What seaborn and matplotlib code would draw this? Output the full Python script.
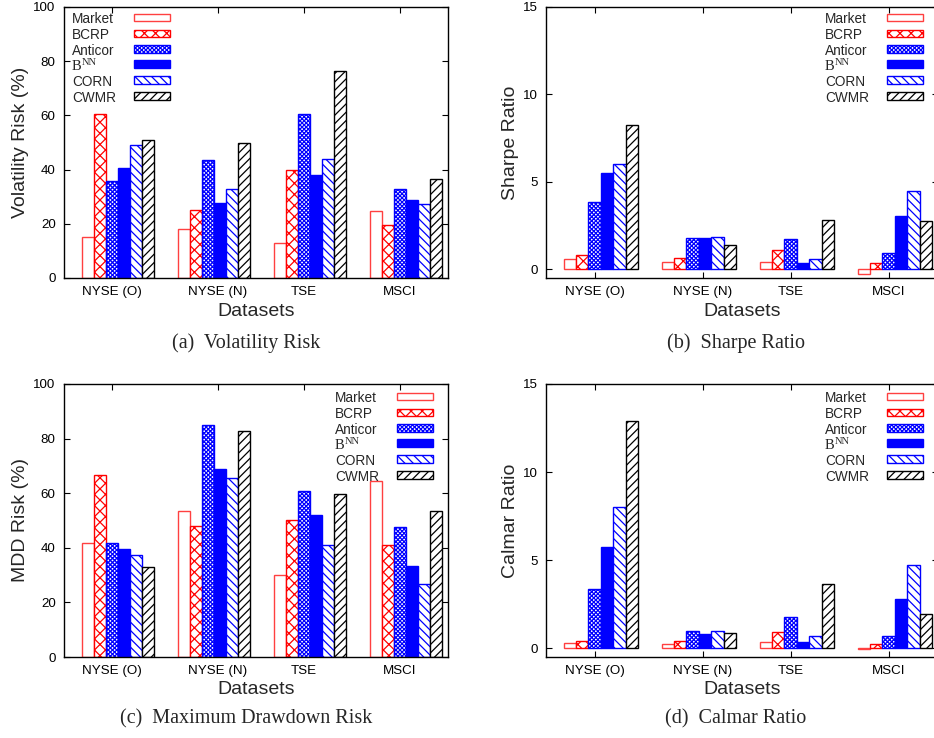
import numpy as np
import pandas as pd
import matplotlib
matplotlib.use("Agg")
import matplotlib.pyplot as plt
import seaborn as sns
from matplotlib.patches import Rectangle
from matplotlib.legend_handler import HandlerBase

# ---------------- data ----------------
datasets = ["NYSE (O)", "NYSE (N)", "TSE", "MSCI"]
methods = ["Market", "BCRP", "Anticor", "BNN", "CORN", "CWMR"]
method_labels = ["Market", "BCRP", "Anticor", "B", "CORN", "CWMR"]
bnn_superscript = "NN"

# rows = methods, columns = datasets
volatility_risk = [
    [15.0, 17.9, 13.0, 24.7],
    [60.7, 25.0, 40.0, 19.4],
    [35.7, 43.4, 60.4, 32.9],
    [40.5, 27.6, 38.0, 28.7],
    [49.0, 32.9, 43.9, 27.2],
    [50.9, 49.7, 76.4, 36.4],
]
sharpe_ratio = [
    [0.59, 0.42, 0.44, -0.29],
    [0.80, 0.65, 1.09, 0.34],
    [3.83, 1.81, 1.71, 0.91],
    [5.52, 1.79, 0.34, 3.05],
    [6.00, 1.87, 0.57, 4.49],
    [8.23, 1.37, 2.82, 2.74],
]
mdd_risk = [
    [41.6, 53.5, 30.2, 64.6],
    [66.7, 48.0, 50.2, 40.9],
    [41.6, 84.9, 60.7, 47.5],
    [39.7, 68.8, 52.0, 33.4],
    [37.2, 65.5, 40.9, 26.6],
    [32.8, 82.7, 59.6, 53.5],
]
calmar_ratio = [
    [0.30, 0.23, 0.34, -0.04],
    [0.42, 0.42, 0.93, 0.25],
    [3.38, 0.99, 1.78, 0.70],
    [5.73, 0.78, 0.34, 2.77],
    [8.00, 0.99, 0.70, 4.75],
    [12.9, 0.87, 3.66, 1.94],
]

y_labels = ["Volatility Risk (%)", "Sharpe Ratio", "MDD Risk (%)", "Calmar Ratio"]
captions = ["(a)  Volatility Risk", "(b)  Sharpe Ratio",
            "(c)  Maximum Drawdown Risk", "(d)  Calmar Ratio"]
y_ticks_pct = [0, 20, 40, 60, 80, 100]
y_ticks_ratio = [0, 5, 10, 15]

# ---------------- styles ----------------
RED = "#ff0000"
LRED = "#ff4040"
BLUE = "#0000ff"
styles = {
    "Market":  dict(face="white", edge=LRED, hatch=None),
    "BCRP":    dict(face="white", edge=RED, hatch="xxx"),
    "Anticor": dict(face="white", edge=BLUE, hatch="xxxxxxxx"),
    "BNN":     dict(face=BLUE, edge=BLUE, hatch=None),
    "CORN":    dict(face="white", edge=BLUE, hatch="\\\\\\\\"),
    "CWMR":    dict(face="white", edge="black", hatch="////"),
}

sns.set_style("ticks")
plt.rcParams["font.family"] = ["Liberation Sans", "DejaVu Sans"]
plt.rcParams["hatch.linewidth"] = 0.9
plt.rcParams["axes.linewidth"] = 1.0

W, H = 934, 738
fig = plt.figure(figsize=(W / 100, H / 100), dpi=100)


def px_axes(left, top, right, bottom):
    return fig.add_axes([left / W, 1 - bottom / H, (right - left) / W, (bottom - top) / H])


class RightPatch(HandlerBase):
    def __init__(self, offset, w, h):
        super().__init__()
        self.offset, self.w, self.h = offset, w, h

    def create_artists(self, legend, orig_handle, xdescent, ydescent, width,
                       height, fontsize, trans):
        r = Rectangle((self.offset - xdescent, -ydescent + height / 2 - self.h / 2 + 0.5),
                      self.w, self.h,
                      facecolor=orig_handle.get_facecolor(),
                      edgecolor=orig_handle.get_edgecolor(),
                      hatch=orig_handle.get_hatch(),
                      linewidth=1.0, transform=trans)
        return [r]


panels = [
    dict(data=volatility_risk, box=(64, 7, 448, 278), xlim=(-0.5625, 3.4375),
         ylim=(0, 100), yticks=y_ticks_pct, leg=(72, 12), ylab_x=29,
         cap=(246, 343), xlab_top=303),
    dict(data=sharpe_ratio, box=(546, 7, 938, 278), xlim=(-0.56, 3.44),
         ylim=(-0.5, 15), yticks=y_ticks_ratio, leg=(825, 12), ylab_x=519,
         cap=(736, 343), xlab_top=303),
    dict(data=mdd_risk, box=(64, 384, 448, 657), xlim=(-0.5625, 3.4375),
         ylim=(0, 100), yticks=y_ticks_pct, leg=(335, 391), ylab_x=29,
         cap=(246, 719), xlab_top=681),
    dict(data=calmar_ratio, box=(546, 384, 938, 657), xlim=(-0.56, 3.44),
         ylim=(-0.5, 15), yticks=y_ticks_ratio, leg=(825, 391), ylab_x=519,
         cap=(736, 719), xlab_top=681),
]

tick_offsets = [-0.0625, 0.04, -0.0625, -0.0625]

for i, p in enumerate(panels):
    left, top, right, bottom = p["box"]
    ax = px_axes(left, top, right, bottom)
    rows = []
    for m, vals in zip(methods, p["data"]):
        for d, v in zip(datasets, vals):
            rows.append(dict(Dataset=d, Method=m, value=v))
    df = pd.DataFrame(rows)
    sns.barplot(data=df, x="Dataset", y="value", hue="Method", order=datasets,
                hue_order=methods, width=0.76, saturation=1, legend=False,
                errorbar=None, ax=ax, palette=["white"] * 6)
    for cont, m in zip(ax.containers, methods):
        st = styles[m]
        for bar in cont:
            bar.set_facecolor(st["face"])
            bar.set_edgecolor(st["edge"])
            bar.set_hatch(st["hatch"])
            bar.set_linewidth(1.0)
    ax.set_xlim(*p["xlim"])
    ax.set_ylim(*p["ylim"])
    ax.set_yticks(p["yticks"])
    ax.set_xticks([k + o for k, o in enumerate(tick_offsets)], datasets)
    for s in ax.spines.values():
        s.set_visible(True)
        s.set_color("black")
    ax.tick_params(axis="both", direction="in", length=4, width=0.8,
                   top=True, right=True, labelsize=9.6, pad=6, colors="black")
    ax.set_xlabel("Datasets", fontsize=14)
    ax.set_ylabel(y_labels[i], fontsize=14)
    axw = right - left
    axh = bottom - top
    ax.xaxis.set_label_coords(0.5, (bottom - p["xlab_top"]) / axh)
    ax.yaxis.set_label_coords((p["ylab_x"] - left) / axw, 0.5)

    handles = [Rectangle((0, 0), 1, 1, facecolor=styles[m]["face"],
                         edgecolor=styles[m]["edge"], hatch=styles[m]["hatch"])
               for m in methods]
    lx, ly = p["leg"]
    leg = ax.legend(handles, method_labels, loc="upper left",
                    bbox_to_anchor=(lx / W, 1 - ly / H), bbox_transform=fig.transFigure,
                    frameon=False, fontsize=9.8, handlelength=0, handletextpad=0,
                    borderpad=0, borderaxespad=0, labelspacing=0.14, markerfirst=True,
                    handler_map={Rectangle: RightPatch(44.6, 26, 5.6)})
    btxt = leg.get_texts()[3]
    btxt.set_family("Liberation Serif")
    btxt.set_fontsize(10.5)
    ax.annotate(bnn_superscript, xy=(1.0, 0.45), xycoords=btxt,
                xytext=(0.3, 0), textcoords="offset points",
                ha="left", va="bottom", fontsize=7.5, family="Liberation Serif",
                zorder=20)

    cx, cy = p["cap"]
    fig.text(cx / W, 1 - cy / H, captions[i], ha="center", va="center",
             fontsize=14.5, family="Liberation Serif")

fig.savefig("out.png", dpi=100)
